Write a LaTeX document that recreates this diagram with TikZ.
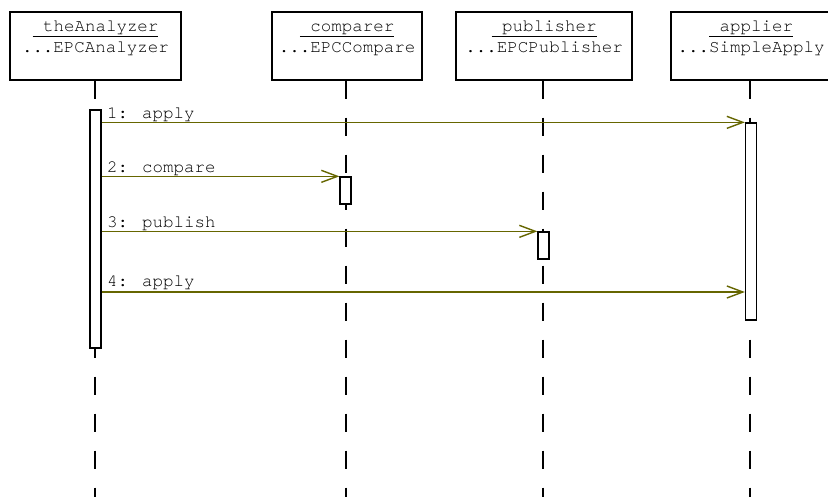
\documentclass[tikz,border=0pt]{standalone}
\usepackage{fontspec}
\newfontfamily\umlfont{TeX Gyre Cursor}
\usetikzlibrary{arrows.meta,positioning}
\definecolor{msgcol}{RGB}{102,102,0}

\begin{document}
\begin{tikzpicture}[
    x=1pt,y=-1pt,
    >={Straight Barb[length=16pt,width=12pt]},
    every node/.style={font=\umlfont\fontsize{17.5}{21}\selectfont},
    obj/.style={draw,line width=1.3pt,inner xsep=0pt,inner ysep=0pt,
      text height=41pt,text depth=27pt,align=center},
    act/.style={draw,line width=1.3pt,fill=white,minimum width=11pt,inner sep=0pt},
    life/.style={line width=1.3pt,dash pattern=on 18pt off 19pt},
    msg/.style={->,draw=msgcol,line width=1.4pt},
    lbl/.style={anchor=base west,inner sep=0pt}]
  \useasboundingbox (0,0) rectangle (828,497);
  % ---- objects ----
  \node[obj,minimum width=171pt] (anl) at (95.5,46) {\underline{\hphantom{x}theAnalyzer}\\...EPCAnalyzer};
  \node[obj,minimum width=150pt] (cmp) at (347,46) {\underline{\hphantom{x}comparer}\\...EPCCompare};
  \node[obj,minimum width=176pt] (pub) at (544,46) {\underline{\hphantom{x}publisher}\\...EPCPublisher};
  \node[obj,minimum width=160pt] (app) at (751,46) {\underline{\hphantom{x}applier}\\...SimpleApply};
  % ---- lifelines ----
  \coordinate (anlend) at (95,497);
  \coordinate (cmpend) at (346,497);
  \coordinate (pubend) at (543,497);
  \coordinate (append) at (750,497);
  \draw[life] (anl.south -| anlend) -- (anlend);
  \draw[life] (cmp.south -| cmpend) -- (cmpend);
  \draw[life] (pub.south -| pubend) -- (pubend);
  \draw[life] (app.south -| append) -- (append);
  % ---- activations ----
  \node[act,minimum height=238pt] (anlact) at (95.5,229) {};
  \node[act,minimum height=197pt] (appact) at (751,221.5) {};
  \node[act,minimum height=27pt] (cmpact) at (345.5,190.5) {};
  \node[act,minimum height=27pt] (pubact) at (543.5,245.5) {};
  % ---- messages ----
  \coordinate (m4) at (0,292);
  \draw[msg] (anlact.east |- appact.north) -- (appact.north west);
  \draw[msg] (anlact.east |- cmpact.north) -- (cmpact.north west);
  \draw[msg] (anlact.east |- pubact.north) -- (pubact.north west);
  \draw[msg] (anlact.east |- m4) -- (appact.west |- m4);
  \node[lbl] (l1) at (107,118.5) {1: apply};
  \node[lbl] (l2) at (107,172.5) {2: compare};
  \node[lbl] (l3) at (107,227.5) {3: publish};
  \node[lbl] (l4) at (107,287) {4: apply};
\end{tikzpicture}
\end{document}
